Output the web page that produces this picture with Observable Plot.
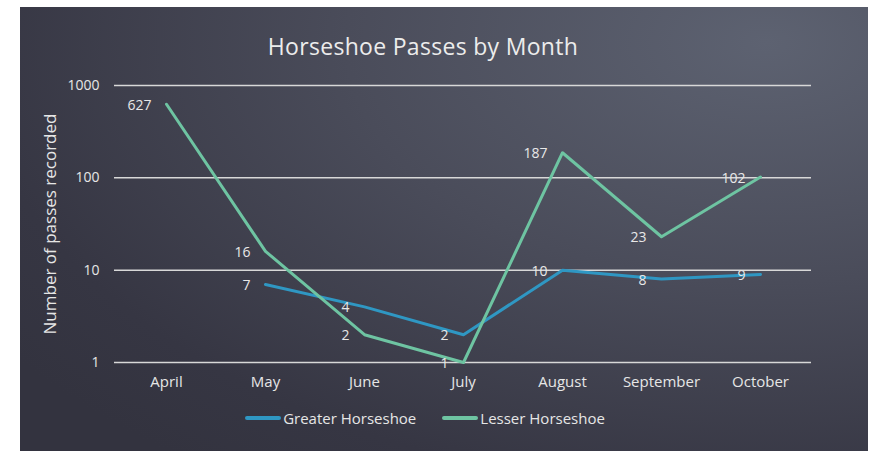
<!DOCTYPE html>
<html>
<head>
<meta charset="utf-8">
<script src="https://cdn.jsdelivr.net/npm/d3@7"></script>
<script src="https://cdn.jsdelivr.net/npm/@observablehq/plot@0.6"></script>
<style>
  html, body { margin: 0; padding: 0; background: #ffffff; }
  #panel {
    position: absolute; left: 20px; top: 7px; width: 848px; height: 444px;
    background: radial-gradient(ellipse 110% 120% at 88% 8%, #5d6271 0%, #4a4c5a 45%, #363643 85%, #33333f 100%);
    overflow: hidden;
    font-family: "Open Sans", sans-serif;
    color: #e6e6e6;
  }
  #title {
    position: absolute; left: 0; width: 806px; top: 23px; text-align: center;
    font-size: 23px; color: #ececec; letter-spacing: 0.3px;
  }
  #chart { position: absolute; left: 0; top: 0; }
  #legend {
    position: absolute; left: 0; width: 810px; top: 401px; display: flex; justify-content: center;
    gap: 26px; font-size: 15px; color: #e6e6e6;
  }
  .item { display: flex; align-items: center; }
  .sw { width: 36px; height: 4px; border-radius: 2px; margin-right: 2px; }
</style>
</head>
<body>
<div id="panel">
  <div id="chart"></div>
  <div id="title"></div>
  <div id="legend"></div>
</div>
<script>
const months = ["April", "May", "June", "July", "August", "September", "October"];
const seriesNames = ["Greater Horseshoe", "Lesser Horseshoe"];
const seriesColors = ["#2f97c3", "#6ec4a2"];
const greater = [null, 7, 4, 2, 10, 8, 9];
const lesser = [627, 16, 2, 1, 187, 23, 102];
const yTicks = [1, 10, 100, 1000];
const titleText = "Horseshoe Passes by Month";
const yLabel = "Number of passes recorded";

const data = [];
months.forEach((m, i) => {
  if (greater[i] != null) data.push({month: m, series: seriesNames[0], value: greater[i]});
});
months.forEach((m, i) => {
  if (lesser[i] != null) data.push({month: m, series: seriesNames[1], value: lesser[i]});
});

document.getElementById("title").textContent = titleText;

const chart = Plot.plot({
  width: 848,
  height: 400,
  marginLeft: 94,
  marginRight: 57,
  marginTop: 78,
  marginBottom: 45,
  style: {background: "transparent", color: "#e6e6e6", fontFamily: "'Open Sans', sans-serif", overflow: "visible"},
  x: {type: "point", domain: months, padding: 0.5},
  y: {type: "log", domain: [1, 1000]},
  color: {domain: seriesNames, range: seriesColors},
  marks: [
    Plot.ruleY(yTicks, {stroke: "#d8d8d8", strokeWidth: 1.5}),
    Plot.axisY({ticks: yTicks, tickFormat: d => String(d), tickSize: 0, tickPadding: 15, fontSize: 14, label: null}),
    Plot.axisX({tickSize: 0, tickPadding: 14, fontSize: 15, label: null}),
    Plot.text([yLabel], {frameAnchor: "left", textAnchor: "middle", dx: -64, rotate: -90, fontSize: 17, fill: "#e6e6e6"}),
    Plot.line(data, {x: "month", y: "value", z: "series", stroke: "series", strokeWidth: 3}),
    Plot.text(data, {x: "month", y: "value", text: d => String(d.value), textAnchor: "end", dx: -15, dy: 1, fontSize: 14, fill: "#e8e8e8"})
  ]
});
document.getElementById("chart").appendChild(chart);

const legend = document.getElementById("legend");
seriesNames.forEach((s, i) => {
  const item = document.createElement("div");
  item.className = "item";
  const sw = document.createElement("div");
  sw.className = "sw";
  sw.style.background = seriesColors[i];
  const lab = document.createElement("span");
  lab.textContent = s;
  item.appendChild(sw);
  item.appendChild(lab);
  legend.appendChild(item);
});
</script>
</body>
</html>
